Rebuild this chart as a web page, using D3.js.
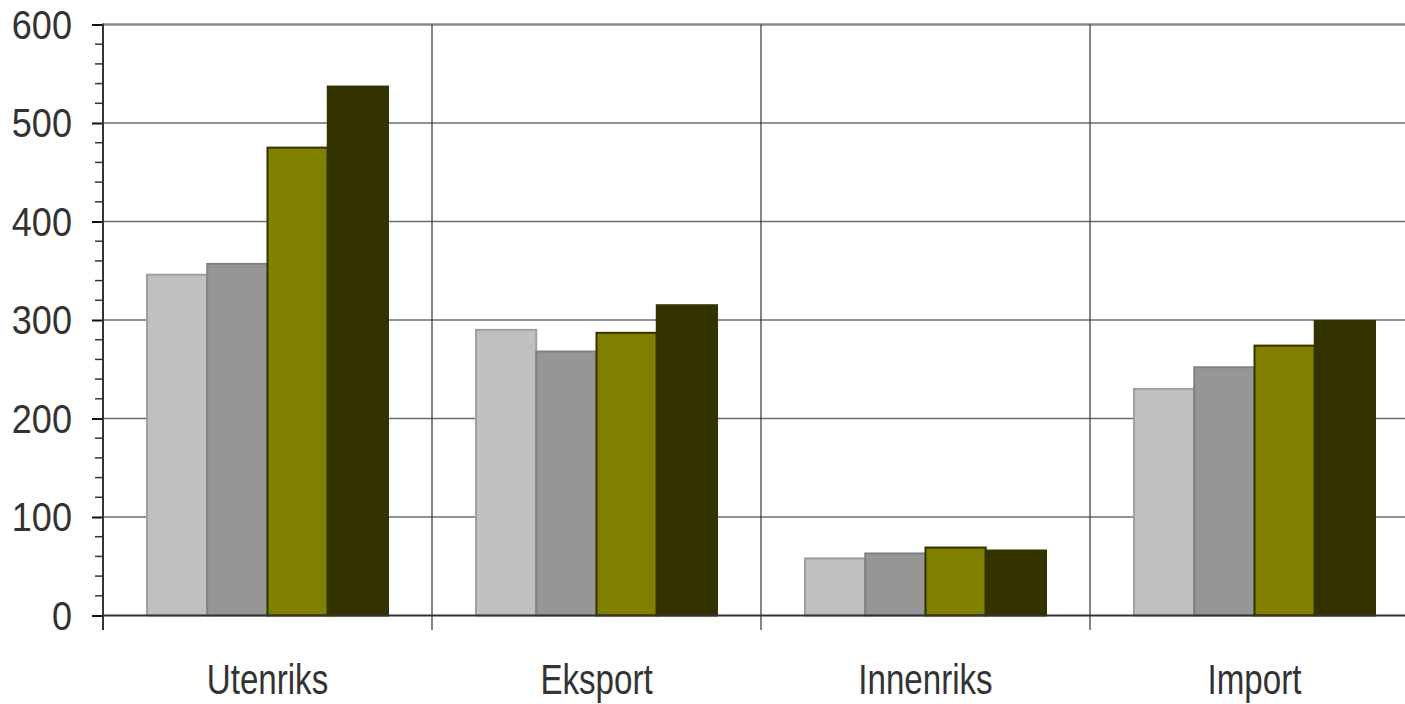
<!DOCTYPE html>
<html>
<head>
<meta charset="utf-8">
<script src="https://cdn.jsdelivr.net/npm/d3@7"></script>
<style>
  html, body { margin: 0; padding: 0; background: #fff; }
  svg { display: block; }
  text { font-family: "Liberation Sans", Arial, sans-serif; fill: #333; }
</style>
</head>
<body>
<svg id="chart" width="1405" height="704"></svg>
<script>
const categories = ["Utenriks", "Eksport", "Innenriks", "Import"];
const series = ["Serie 1", "Serie 2", "Serie 3", "Serie 4"];
const serie1 = [346, 290, 58, 230];
const serie2 = [357, 268, 63, 252];
const serie3 = [475, 287, 69, 274];
const serie4 = [537, 315, 66, 299];
const yTicks = [0, 100, 200, 300, 400, 500, 600];
const fills = ["#c0c0c0", "#969696", "#808000", "#333300"];
const strokes = ["#a0a0a0", "#808080", "#333300", "#333300"];

const values = [serie1, serie2, serie3, serie4];
const svg = d3.select("#chart");
const mLeft = 103, mTop = 24.5, mBottom = 615.5, step = 329;
const mRight = mLeft + step * categories.length;

const y = d3.scaleLinear().domain([0, 600]).range([mBottom, mTop]);
const x0 = d3.scaleBand().domain(categories).range([mLeft, mRight]).padding(0);
const inner = 44 / step;
const x1 = d3.scaleBand().domain(series)
  .range([x0.bandwidth() * inner, x0.bandwidth() * (1 - inner)]).padding(0);

// horizontal gridlines
svg.append("g").selectAll("line").data(yTicks.filter(d => d > 0)).join("line")
  .attr("x1", mLeft).attr("x2", mRight)
  .attr("y1", d => y(d)).attr("y2", d => y(d))
  .attr("stroke", d => d === 600 ? "#888" : "#6e6e6e")
  .attr("stroke-width", d => d === 600 ? 2.5 : 1.5);

// vertical category separators
svg.append("g").selectAll("line").data(categories.slice(1)).join("line")
  .attr("x1", d => x0(d)).attr("x2", d => x0(d))
  .attr("y1", mTop).attr("y2", mBottom + 14.5)
  .attr("stroke", "#333").attr("stroke-width", 1.2);

// bars
const groups = svg.append("g").selectAll("g").data(series).join("g");
groups.each(function(s, si) {
  d3.select(this).selectAll("rect").data(categories).join("rect")
    .attr("x", c => x0(c) + x1(s))
    .attr("y", (c, ci) => y(values[si][ci]))
    .attr("width", x1.bandwidth())
    .attr("height", (c, ci) => mBottom - y(values[si][ci]))
    .attr("fill", fills[si])
    .attr("stroke", strokes[si])
    .attr("stroke-width", 2);
});

// y axis
const yAxis = d3.axisLeft(y).tickValues(yTicks).tickSize(11).tickPadding(20).tickFormat(d3.format("d"));
const ga = svg.append("g").attr("transform", `translate(${mLeft},0)`).call(yAxis);
ga.select(".domain").remove();
ga.selectAll(".tick line").attr("stroke", "#111").attr("stroke-width", 2);
ga.selectAll(".tick text")
  .attr("x", 0)
  .attr("transform", "translate(-31,0) scale(0.88,1)")
  .style("font-size", "41px").attr("fill", "#333").attr("dy", "0.34em");

// minor ticks
const minor = d3.range(0, 601, 20).filter(d => d % 100 !== 0);
svg.append("g").selectAll("line").data(minor).join("line")
  .attr("x1", mLeft - 8).attr("x2", mLeft)
  .attr("y1", d => y(d)).attr("y2", d => y(d))
  .attr("stroke", "#333").attr("stroke-width", 1.5);

// left axis line
svg.append("line").attr("x1", mLeft).attr("x2", mLeft)
  .attr("y1", mTop - 1).attr("y2", mBottom + 14.5)
  .attr("stroke", "#333").attr("stroke-width", 2);

// baseline
svg.append("line").attr("x1", mLeft).attr("x2", mRight)
  .attr("y1", mBottom).attr("y2", mBottom)
  .attr("stroke", "#333").attr("stroke-width", 2);

// category labels
svg.append("g").selectAll("text").data(categories).join("text")
  .attr("transform", d => `translate(${x0(d) + x0.bandwidth() / 2},694) scale(0.77,1)`)
  .attr("text-anchor", "middle")
  .style("font-size", "43px")
  .text(d => d);
</script>
</body>
</html>
